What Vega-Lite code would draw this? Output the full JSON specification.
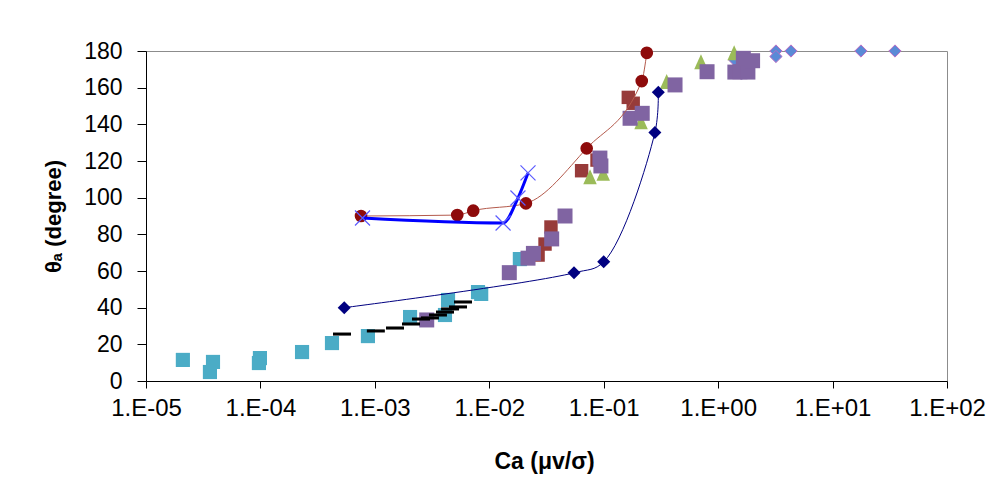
{
  "$schema": "https://vega.github.io/schema/vega-lite/v6.json",
  "width": 801,
  "height": 330,
  "autosize": "none",
  "padding": {"left": 146, "top": 51, "right": 56, "bottom": 120},
  "background": "white",
  "datasets": {
    "cyan": [
      {"ca": 2.1e-5, "theta": 11.5}, {"ca": 3.85e-5, "theta": 10.4}, {"ca": 3.62e-5, "theta": 4.9},
      {"ca": 9.9e-5, "theta": 12.5}, {"ca": 9.7e-5, "theta": 9.8}, {"ca": 2.31e-4, "theta": 15.8},
      {"ca": 4.22e-4, "theta": 20.7}, {"ca": 8.7e-4, "theta": 24.5}, {"ca": 2.03e-3, "theta": 34.9},
      {"ca": 4.36e-3, "theta": 44.2}, {"ca": 4.1e-3, "theta": 36}, {"ca": 7.97e-3, "theta": 48.5},
      {"ca": 8.5e-3, "theta": 47.5}, {"ca": 0.0185, "theta": 66.5}
    ],
    "lightblue": [
      {"ca": 1.4, "theta": 175}, {"ca": 3.2, "theta": 180}, {"ca": 3.2, "theta": 177},
      {"ca": 4.33, "theta": 180}, {"ca": 17.7, "theta": 180}, {"ca": 35.1, "theta": 180}
    ],
    "brown": [
      {"ca": 0.0641, "theta": 114.7}, {"ca": 0.164, "theta": 154.7}, {"ca": 0.181, "theta": 151.5},
      {"ca": 0.0346, "theta": 84}, {"ca": 0.0307, "theta": 74.7}, {"ca": 0.0267, "theta": 68.7},
      {"ca": 0.0874, "theta": 120.5}
    ],
    "green": [
      {"ca": 0.0759, "theta": 111.4}, {"ca": 0.099, "theta": 113.3}, {"ca": 0.212, "theta": 141.4},
      {"ca": 0.355, "theta": 163.3}, {"ca": 0.708, "theta": 174.2}, {"ca": 1.38, "theta": 179}
    ],
    "purple": [
      {"ca": 2.84e-3, "theta": 33.3}, {"ca": 0.01496, "theta": 59.1}, {"ca": 0.0218, "theta": 67},
      {"ca": 0.0243, "theta": 69.6}, {"ca": 0.0351, "theta": 77.5}, {"ca": 0.0459, "theta": 90},
      {"ca": 0.0926, "theta": 121.6}, {"ca": 0.0945, "theta": 117.3}, {"ca": 0.17, "theta": 143.3},
      {"ca": 0.217, "theta": 146}, {"ca": 0.42, "theta": 161.5}, {"ca": 0.8, "theta": 168.7},
      {"ca": 1.4, "theta": 168.5}, {"ca": 1.55, "theta": 168.7}, {"ca": 1.82, "theta": 168.5},
      {"ca": 1.66, "theta": 176}, {"ca": 2.0, "theta": 174.7}
    ],
    "dash": [
      {"ca": 5.16e-4, "theta": 25.6}, {"ca": 1.02e-3, "theta": 27.3}, {"ca": 1.5e-3, "theta": 28.9},
      {"ca": 2.07e-3, "theta": 31.1}, {"ca": 2.53e-3, "theta": 33.8}, {"ca": 3.03e-3, "theta": 34.4},
      {"ca": 3.56e-3, "theta": 36}, {"ca": 4.1e-3, "theta": 37.6}, {"ca": 4.54e-3, "theta": 39.3},
      {"ca": 5.33e-3, "theta": 40.4}, {"ca": 5.89e-3, "theta": 43.1}
    ],
    "navy": [
      {"ca": 5.4e-4, "theta": 40}, {"ca": 0.055, "theta": 59}, {"ca": 0.1, "theta": 65},
      {"ca": 0.28, "theta": 135.5}, {"ca": 0.3, "theta": 157.5}
    ],
    "red": [
      {"ca": 7.57e-4, "theta": 90}, {"ca": 5.25e-3, "theta": 90.5}, {"ca": 7.24e-3, "theta": 92.9},
      {"ca": 0.0209, "theta": 96.9}, {"ca": 0.071, "theta": 126.9}, {"ca": 0.215, "theta": 163.6},
      {"ca": 0.238, "theta": 179}
    ],
    "blue": [
      {"ca": 7.8e-4, "theta": 88.9}, {"ca": 0.0132, "theta": 86.2}, {"ca": 0.0178, "theta": 99.8},
      {"ca": 0.0218, "theta": 113.5}
    ]
  },
  "encoding": {
    "x": {
      "field": "ca", "type": "quantitative",
      "scale": {"type": "log", "domain": [0.00001, 100], "nice": false},
      "axis": {
        "values": [0.00001, 0.0001, 0.001, 0.01, 0.1, 1, 10, 100],
        "labelExpr": "'1.E' + (datum.value < 1 ? '-' : '+') + (abs(round(log(datum.value)/LN10)) < 10 ? '0' : '') + abs(round(log(datum.value)/LN10))",
        "title": "Ca (μv/σ)",
        "grid": false,
        "tickSize": 7,
        "labelPadding": 8,
        "labelFontSize": 24,
        "titleFontSize": 23,
        "titleX": 398,
        "titleY": 87,
        "titleBaseline": "alphabetic",
        "labelFlush": false
      }
    },
    "y": {
      "field": "theta", "type": "quantitative",
      "scale": {"domain": [0, 180], "nice": false, "zero": true},
      "axis": {
        "values": [0, 20, 40, 60, 80, 100, 120, 140, 160, 180],
        "title": "θₐ (degree)",
        "grid": false,
        "tickSize": 9,
        "labelPadding": 15,
        "labelFontSize": 23,
        "titleFontSize": 22,
        "titleAngle": -90,
        "titleX": -86,
        "titleY": 165,
        "titleAlign": "center",
        "titleBaseline": "alphabetic"
      }
    }
  },
  "layer": [
    {"data": {"name": "lightblue"}, "mark": {"type": "point", "shape": "diamond", "filled": true, "size": 150, "fill": "#5A8AD6", "stroke": "#B86CC4", "strokeWidth": 1, "opacity": 1}},
    {"data": {"name": "cyan"}, "mark": {"type": "point", "shape": "square", "filled": true, "size": 200, "fill": "#4BACC6", "strokeWidth": 0, "opacity": 1}},
    {"data": {"name": "brown"}, "mark": {"type": "point", "shape": "square", "filled": true, "size": 180, "fill": "#973B3A", "strokeWidth": 0, "opacity": 1}},
    {"data": {"name": "green"}, "mark": {"type": "point", "shape": "M0,-1L0.9,1L-0.9,1Z", "filled": true, "size": 225, "fill": "#9BBB59", "strokeWidth": 0, "opacity": 1}},
    {"data": {"name": "purple"}, "mark": {"type": "point", "shape": "square", "filled": true, "size": 225, "fill": "#8064A2", "strokeWidth": 0, "opacity": 1}},
    {"data": {"name": "dash"}, "mark": {"type": "point", "shape": "M-1,-0.17H1V0.17H-1Z", "filled": true, "size": 324, "fill": "#000000", "strokeWidth": 0, "opacity": 1}},
    {"data": {"name": "navy"}, "mark": {"type": "line", "interpolate": "catmull-rom", "color": "#000080", "strokeWidth": 1}},
    {"data": {"name": "navy"}, "mark": {"type": "point", "shape": "diamond", "filled": true, "size": 170, "fill": "#000080", "strokeWidth": 0, "opacity": 1}},
    {"data": {"name": "red"}, "mark": {"type": "line", "interpolate": "monotone", "color": "#B45A4C", "strokeWidth": 1}},
    {"data": {"name": "red"}, "mark": {"type": "point", "shape": "circle", "filled": true, "size": 160, "fill": "#8E0B0B", "strokeWidth": 0, "opacity": 1}},
    {"data": {"name": "blue"}, "mark": {"type": "line", "interpolate": "monotone", "color": "#0000FF", "strokeWidth": 3}},
    {"data": {"name": "blue"}, "mark": {"type": "point", "shape": "M-1,-1L1,1M-1,1L1,-1", "filled": false, "size": 225, "stroke": "#5B5BFF", "strokeWidth": 1.2, "opacity": 1}}
  ],
  "config": {
    "font": "Liberation Sans",
    "view": {"stroke": "#8C8C8C", "strokeWidth": 1},
    "axis": {
      "domainColor": "#000000",
      "tickColor": "#000000",
      "labelColor": "#000000",
      "titleColor": "#000000",
      "labelFont": "Liberation Sans",
      "titleFont": "Liberation Sans",
      "titleFontWeight": "bold",
      "labelFontWeight": "normal"
    }
  }
}
